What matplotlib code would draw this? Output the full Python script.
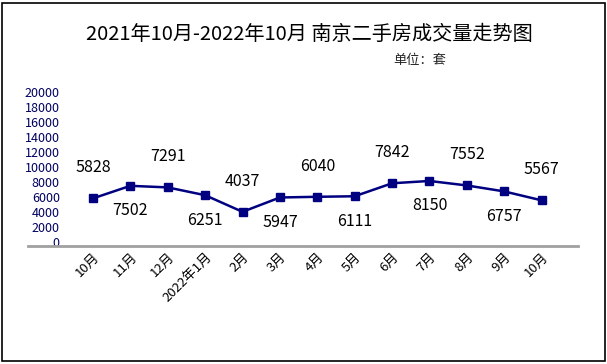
import matplotlib
matplotlib.use("Agg")
import matplotlib.pyplot as plt
from matplotlib.patches import Rectangle

plt.rcParams['font.family'] = ['Noto Sans CJK SC', 'DejaVu Sans']

months = ["10月", "11月", "12月", "2022年1月", "2月", "3月", "4月", "5月", "6月", "7月", "8月", "9月", "10月"]
volumes = [5828, 7502, 7291, 6251, 4037, 5947, 6040, 6111, 7842, 8150, 7552, 6757, 5567]
yticks = list(range(0, 20001, 2000))

fig = plt.figure(figsize=(6.07, 3.64), dpi=100)
fig.patches.append(Rectangle((0.004, 0.008), 0.992, 0.984, transform=fig.transFigure,
                             fill=False, edgecolor='black', linewidth=1.2))

ax = fig.add_axes([0.046, 0.324, 0.906, 0.423])
x = list(range(len(months)))
ax.plot(x, volumes, color='#000080', linewidth=1.8, marker='s', markersize=6,
        markerfacecolor='#000080', markeredgecolor='#000080')

for i, v in enumerate(volumes):
    dy = 22 if i % 2 == 0 else -18
    ax.annotate(str(v), (i, v), xytext=(0, dy), textcoords='offset points',
                ha='center', va='center', fontsize=11.5, color='black')

ax.set_xlim(-1.74, 12.97)
ax.set_ylim(-530, 20000)
ax.set_yticks(yticks)
ax.set_yticklabels([str(t) for t in yticks], fontsize=9, color='#000060')
ax.tick_params(axis='y', length=0, pad=-23)
ax.set_xticks(x)
ax.set_xticklabels(months, rotation=45, ha='right', rotation_mode='anchor', fontsize=9.5)
ax.tick_params(axis='x', length=0, pad=3)

for s in ['top', 'right', 'left']:
    ax.spines[s].set_visible(False)
ax.spines['bottom'].set_color('#a0a0a0')
ax.spines['bottom'].set_linewidth(2)

fig.text(0.51, 0.905, "2021年10月-2022年10月 南京二手房成交量走势图", ha='center', va='center',
         fontsize=14.5, color='black')
fig.text(0.692, 0.835, "单位：套", ha='center', va='center', fontsize=9.5, color='#222222')

fig.savefig("out.png", dpi=100)
